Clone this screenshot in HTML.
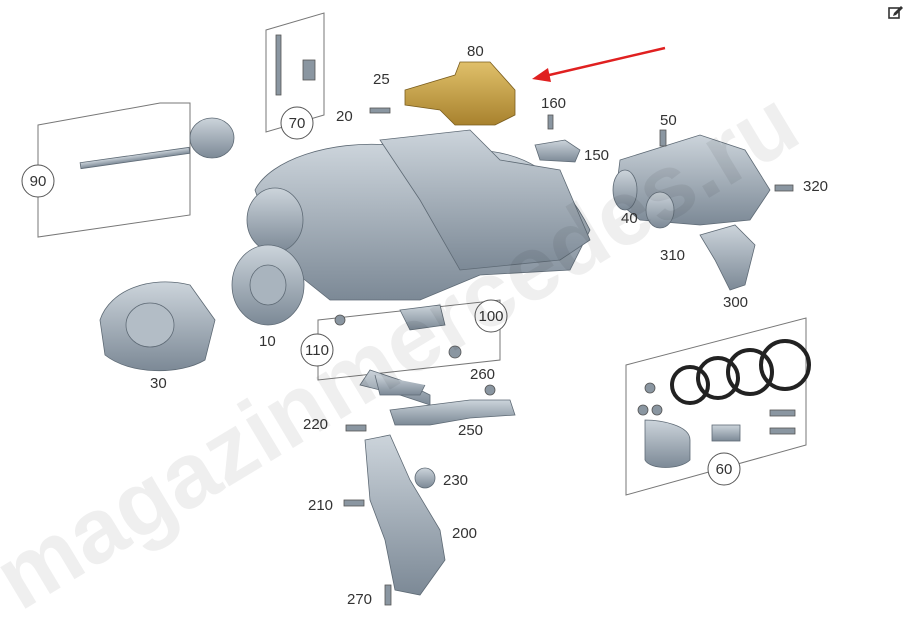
<!DOCTYPE html>
<html><head><meta charset="utf-8"><style>
html,body{margin:0;padding:0;background:#fff;width:906px;height:617px;overflow:hidden}
svg{display:block}
text{font-family:"Liberation Sans",sans-serif;font-size:15px;fill:#333}
.wm{font-size:92px;fill:#000;opacity:0.06;font-weight:bold}
</style></head><body>
<svg width="906" height="617" viewBox="0 0 906 617" xmlns="http://www.w3.org/2000/svg">
<defs>
<linearGradient id="g" x1="0" y1="0" x2="0" y2="1"><stop offset="0" stop-color="#ccd4db"/><stop offset="1" stop-color="#7c8996"/></linearGradient>
<linearGradient id="au" x1="0" y1="0" x2="0" y2="1"><stop offset="0" stop-color="#e0c06a"/><stop offset="1" stop-color="#a8822e"/></linearGradient>
</defs>
<g fill="none" stroke="#777" stroke-width="1">
<polygon points="38,125 160,103 190,103 190,215 38,237"/>
<polygon points="266,30 324,13 324,115 266,132"/>
<polygon points="318,320 500,300 500,360 318,380"/>
<polygon points="626,365 806,318 806,445 626,495"/>
</g>
<g fill="url(#g)" stroke="#5e6a75" stroke-width="0.8">
<path d="M255,190 C270,160 330,140 390,145 L470,150 C520,150 560,170 590,230 L570,270 L480,275 L420,300 L330,300 L280,260 Z"/>
<ellipse cx="275" cy="220" rx="28" ry="32"/>
<path d="M380,140 L470,130 L500,160 L560,170 L590,240 L560,260 L460,270 L420,200 Z"/>
<ellipse cx="268" cy="285" rx="36" ry="40"/>
<ellipse cx="268" cy="285" rx="18" ry="20" fill="#a9b4be"/>
<path d="M100,320 C110,290 150,275 190,285 L215,320 L205,360 C180,375 130,375 105,355 Z"/>
<ellipse cx="150" cy="325" rx="24" ry="22" fill="#b3bdc6"/>
<path d="M620,160 L700,135 L745,150 L770,190 L750,220 L700,225 L640,220 L615,200 Z"/>
<ellipse cx="625" cy="190" rx="12" ry="20"/>
<ellipse cx="660" cy="210" rx="14" ry="18"/>
<path d="M700,235 L735,225 L755,245 L745,285 L730,290 L715,260 Z"/>
<ellipse cx="212" cy="138" rx="22" ry="20"/>
<rect x="80" y="155" width="110" height="6" transform="rotate(-8 135 158)"/>
<path d="M360,385 L370,370 L400,380 L430,395 L430,405 L400,395 Z"/>
<path d="M375,375 L380,395 L420,395 L425,385"/>
<path d="M390,410 L430,405 L470,400 L510,400 L515,415 L470,418 L430,425 L395,425 Z"/>
<path d="M365,440 L390,435 L410,480 L440,530 L445,560 L420,595 L395,590 L385,540 L370,500 Z"/>
<circle cx="425" cy="478" r="10"/>
<path d="M400,310 L440,305 L445,325 L410,330 Z"/>
<path d="M535,145 L565,140 L580,150 L575,162 L540,160 Z"/>
<path d="M645,420 C660,420 690,425 690,440 L690,460 C680,470 650,470 645,460 Z"/>
<rect x="712" y="425" width="28" height="16"/>
</g>
<g fill="none" stroke="#222" stroke-width="4">
<circle cx="690" cy="385" r="18"/>
<circle cx="718" cy="378" r="20"/>
<circle cx="750" cy="372" r="22"/>
<circle cx="785" cy="365" r="24"/>
</g>
<g fill="#8a96a1" stroke="#555" stroke-width="0.8">
<rect x="276" y="35" width="5" height="60"/>
<rect x="303" y="60" width="12" height="20"/>
<rect x="370" y="108" width="20" height="5"/>
<rect x="346" y="425" width="20" height="6"/>
<rect x="344" y="500" width="20" height="6"/>
<rect x="385" y="585" width="6" height="20"/>
<rect x="775" y="185" width="18" height="6"/>
<rect x="660" y="130" width="6" height="16"/>
<rect x="548" y="115" width="5" height="14"/>
<rect x="770" y="410" width="25" height="6"/>
<rect x="770" y="428" width="25" height="6"/>
<circle cx="650" cy="388" r="5"/><circle cx="643" cy="410" r="5"/><circle cx="657" cy="410" r="5"/>
<circle cx="340" cy="320" r="5"/><circle cx="455" cy="352" r="6"/><circle cx="490" cy="390" r="5"/>
</g>
<path d="M405,90 L455,75 L460,62 L490,62 L515,90 L515,115 L495,125 L455,125 L440,110 L405,105 Z" fill="url(#au)" stroke="#7a5d1e" stroke-width="0.8"/>
<line x1="665" y1="48" x2="545" y2="76" stroke="#e02020" stroke-width="2.5"/>
<polygon points="532,79 548,68 551,82" fill="#e02020"/>
<g fill="#fff" stroke="#555" stroke-width="1">
<circle cx="297" cy="123" r="16"/>
<circle cx="38" cy="181" r="16"/>
<circle cx="317" cy="350" r="16"/>
<circle cx="491" cy="316" r="16"/>
<circle cx="724" cy="469" r="16"/>
</g>
<g text-anchor="middle">
<text x="297" y="128">70</text><text x="38" y="186">90</text><text x="317" y="355">110</text>
<text x="491" y="321">100</text><text x="724" y="474">60</text>
</g>
<text x="467" y="56">80</text><text x="373" y="84">25</text><text x="336" y="121">20</text>
<text x="541" y="108">160</text><text x="584" y="160">150</text><text x="660" y="125">50</text>
<text x="803" y="191">320</text><text x="621" y="223">40</text><text x="660" y="260">310</text>
<text x="723" y="307">300</text><text x="259" y="346">10</text><text x="150" y="388">30</text>
<text x="470" y="379">260</text><text x="458" y="435">250</text><text x="303" y="429">220</text>
<text x="443" y="485">230</text><text x="308" y="510">210</text><text x="452" y="538">200</text>
<text x="347" y="604">270</text>
<text class="wm" x="0" y="0" transform="translate(20,612) rotate(-31)">magazinmercedes.ru</text>
<g transform="translate(888,4)" fill="#333"><rect x="1" y="4" width="10" height="10" fill="none" stroke="#333" stroke-width="1.6"/><polygon points="6,9 13,2 15,4 8,11 5,12" /></g>
</svg>
</body></html>
